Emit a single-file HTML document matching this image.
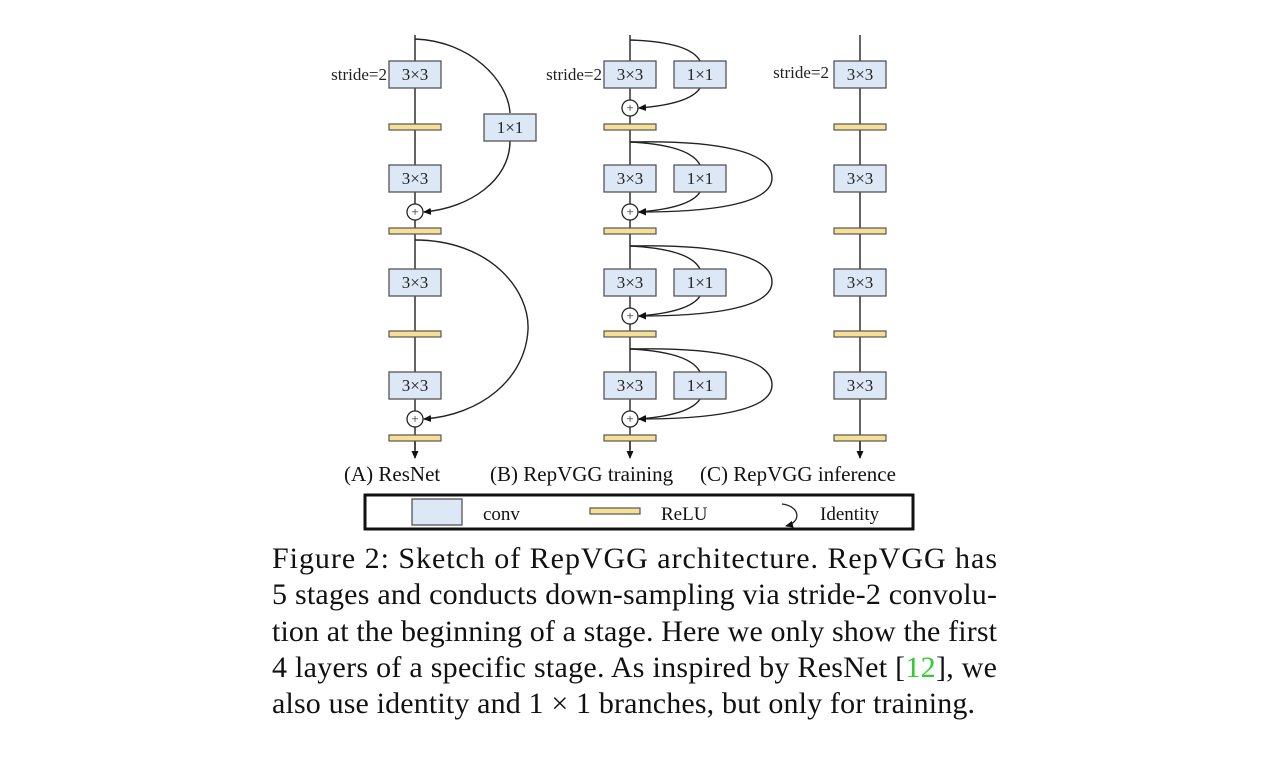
<!DOCTYPE html>
<html><head><meta charset="utf-8"><style>
html,body{margin:0;padding:0;background:#fff;}
svg{display:block;font-family:"Liberation Serif",serif;}
</style></head><body>
<svg width="1274" height="759" viewBox="0 0 1274 759" xmlns="http://www.w3.org/2000/svg">
<defs>
<marker id="ar" markerWidth="8" markerHeight="8" refX="7" refY="4" orient="auto" markerUnits="userSpaceOnUse">
<path d="M0,0.5 L8,4 L0,7.5 z" fill="#111"/></marker>
</defs>
<g stroke="#222" stroke-width="1.4" fill="none">
<line x1="415" y1="35" x2="415" y2="450"/>
<line x1="630" y1="35" x2="630" y2="450"/>
<line x1="860" y1="35" x2="860" y2="450"/>
<line x1="415" y1="440" x2="415" y2="458" marker-end="url(#ar)"/>
<line x1="630" y1="440" x2="630" y2="458" marker-end="url(#ar)"/>
<line x1="860" y1="440" x2="860" y2="458" marker-end="url(#ar)"/>
<path d="M415,39 C470,41 508,80 510,113"/>
<path d="M510,141 C510,180 470,208 424,212" marker-end="url(#ar)"/>
<path d="M415,240 C490,240 530,290 528,330 C525,380 480,415 424,419" marker-end="url(#ar)"/>
<path d="M630,40 Q690,42 700,61"/>
<path d="M700,88 Q690,104 639,108" marker-end="url(#ar)"/>
<g id="st">
<path d="M630,142 Q690,145 700,165"/>
<path d="M700,192 Q690,208 639,212" marker-end="url(#ar)"/>
<path d="M630,142 C720,140 772,152 772,178 C772,202 720,212 639,212" marker-end="url(#ar)"/>
</g>
<use href="#st" y="104"/>
<use href="#st" y="207"/>
</g>
<g fill="#dce8f5" stroke="#555" stroke-width="1.3">
<rect x="389" y="61" width="52" height="27"/><rect x="389" y="165" width="52" height="27"/>
<rect x="389" y="269" width="52" height="27"/><rect x="389" y="372" width="52" height="27"/>
<rect x="484" y="114" width="52" height="27"/>
<rect x="604" y="61" width="52" height="27"/><rect x="604" y="165" width="52" height="27"/>
<rect x="604" y="269" width="52" height="27"/><rect x="604" y="372" width="52" height="27"/>
<rect x="674" y="61" width="52" height="27"/><rect x="674" y="165" width="52" height="27"/>
<rect x="674" y="269" width="52" height="27"/><rect x="674" y="372" width="52" height="27"/>
<rect x="834" y="61" width="52" height="27"/><rect x="834" y="165" width="52" height="27"/>
<rect x="834" y="269" width="52" height="27"/><rect x="834" y="372" width="52" height="27"/>
<rect x="412" y="499" width="50" height="26"/>
</g>
<g fill="#f7df95" stroke="#555" stroke-width="1.2">
<rect x="389" y="124" width="52" height="6"/><rect x="389" y="228" width="52" height="6"/>
<rect x="389" y="331" width="52" height="6"/><rect x="389" y="435" width="52" height="6"/>
<rect x="604" y="124" width="52" height="6"/><rect x="604" y="228" width="52" height="6"/>
<rect x="604" y="331" width="52" height="6"/><rect x="604" y="435" width="52" height="6"/>
<rect x="834" y="124" width="52" height="6"/><rect x="834" y="228" width="52" height="6"/>
<rect x="834" y="331" width="52" height="6"/><rect x="834" y="435" width="52" height="6"/>
<rect x="590" y="508" width="50" height="6"/>
</g>
<g fill="#fff" stroke="#222" stroke-width="1.3">
<circle cx="415" cy="212" r="8"/><circle cx="415" cy="419" r="8"/>
<circle cx="630" cy="108" r="8"/><circle cx="630" cy="212" r="8"/>
<circle cx="630" cy="316" r="8"/><circle cx="630" cy="419" r="8"/>
</g>
<g font-size="13" text-anchor="middle" fill="#222">
<text x="415" y="216">+</text><text x="415" y="423">+</text>
<text x="630" y="112">+</text><text x="630" y="216">+</text>
<text x="630" y="320">+</text><text x="630" y="423">+</text>
</g>
<g font-size="17" text-anchor="middle" fill="#222">
<text x="415" y="80">3×3</text><text x="415" y="184">3×3</text><text x="415" y="288">3×3</text><text x="415" y="391">3×3</text>
<text x="510" y="133">1×1</text>
<text x="630" y="80">3×3</text><text x="630" y="184">3×3</text><text x="630" y="288">3×3</text><text x="630" y="391">3×3</text>
<text x="700" y="80">1×1</text><text x="700" y="184">1×1</text><text x="700" y="288">1×1</text><text x="700" y="391">1×1</text>
<text x="860" y="80">3×3</text><text x="860" y="184">3×3</text><text x="860" y="288">3×3</text><text x="860" y="391">3×3</text>
</g>
<g font-size="17" fill="#222" text-anchor="end">
<text x="387" y="80">stride=2</text><text x="602" y="80">stride=2</text><text x="829" y="78">stride=2</text>
</g>
<g font-size="21" fill="#111">
<text x="344" y="481">(A) ResNet</text>
<text x="490" y="481">(B) RepVGG training</text>
<text x="700" y="481">(C) RepVGG inference</text>
</g>
<rect x="365" y="495" width="548" height="34" fill="none" stroke="#111" stroke-width="3"/>
<g font-size="19" fill="#111">
<text x="483" y="520">conv</text><text x="661" y="520">ReLU</text><text x="820" y="520">Identity</text>
</g>
<path d="M782,504 C800,506 802,522 786,526" fill="none" stroke="#222" stroke-width="1.3" marker-end="url(#ar)"/>
<g font-size="30" fill="#111">
<text x="272" y="568" textLength="725" lengthAdjust="spacing">Figure 2:  Sketch of RepVGG architecture.  RepVGG has</text>
<text x="272" y="604" textLength="725" lengthAdjust="spacing">5 stages and conducts down-sampling via stride-2 convolu-</text>
<text x="272" y="641" textLength="725" lengthAdjust="spacing">tion at the beginning of a stage. Here we only show the first</text>
<text x="272" y="677" textLength="725" lengthAdjust="spacing">4 layers of a specific stage. As inspired by ResNet [<tspan fill="#2ecc2e">12</tspan>], we</text>
<text x="272" y="713" textLength="703" lengthAdjust="spacing">also use identity and 1 × 1 branches, but only for training.</text>
</g>
</svg>
</body></html>
